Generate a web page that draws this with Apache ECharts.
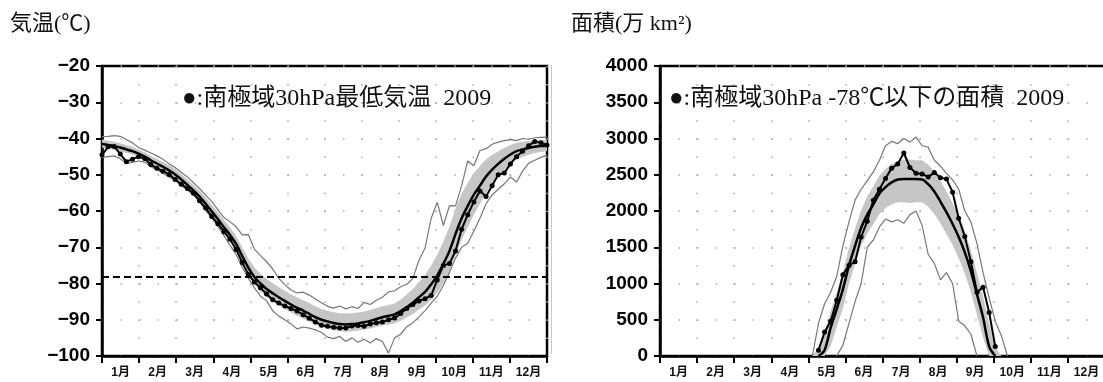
<!DOCTYPE html>
<html>
<head>
<meta charset="utf-8">
<script src="https://cdn.jsdelivr.net/npm/echarts@6.0.0/dist/echarts.min.js"></script>
<style>
  html, body { margin: 0; padding: 0; background: #fff; }
  #chart { width: 1103px; height: 382px; }
</style>
</head>
<body>
<div id="chart"></div>
<script>
// 横軸：通日（5日おき）
var days = [0, 5, 10, 15, 20, 25, 30, 35, 40, 45, 50, 55, 60, 65, 70, 75, 80, 85, 90, 95,
  100, 105, 110, 115, 120, 125, 130, 135, 140, 145, 150, 155, 160, 165, 170, 175, 180, 185, 190, 195,
  200, 205, 210, 215, 220, 225, 230, 235, 240, 245, 250, 255, 260, 265, 270, 275, 280, 285, 290, 295,
  300, 305, 310, 315, 320, 325, 330, 335, 340, 345, 350, 355, 360, 365];
var monthLabels = ['1月', '2月', '3月', '4月', '5月', '6月', '7月', '8月', '9月', '10月', '11月', '12月'];

// 左：南極域30hPa最低気温 (℃)
var tempMax = [-39.5, -39.4, -39.2, -39.4, -40.3, -41.2, -42.5, -43.2, -44.0, -44.8,
  -45.7, -47.0, -48.0, -49.3, -50.6, -52.2, -53.8, -55.6, -57.4, -59.6,
  -61.8, -63.0, -64.3, -66.6, -66.5, -70.5, -72.3, -74.0, -76.0, -78.6,
  -80.3, -81.8, -82.6, -82.4, -83.2, -84.3, -85.3, -86.3, -86.8, -86.2,
  -87.0, -86.4, -86.9, -85.2, -85.8, -84.6, -83.8, -82.3, -82.0, -80.9,
  -80.2, -78.6, -73.5, -70.2, -62.0, -57.6, -64.0, -58.5, -58.6, -53.0,
  -46.2, -47.5, -43.3, -42.8, -41.6, -41.0, -40.6, -40.3, -40.6, -40.0,
  -40.2, -39.8, -39.7, -39.6];
var tempMin = [-45.2, -45.0, -44.8, -45.6, -46.9, -46.6, -46.2, -46.5, -47.8, -48.6,
  -49.6, -50.6, -51.6, -52.9, -54.2, -55.6, -57.4, -59.8, -62.0, -64.2,
  -66.8, -69.5, -72.0, -75.5, -78.5, -81.2, -83.5, -84.8, -87.5, -89.0,
  -90.0, -91.2, -92.5, -92.0, -92.3, -92.8, -93.5, -94.8, -95.2, -94.6,
  -96.0, -95.0, -96.2, -95.4, -96.4, -95.2, -96.0, -99.2, -95.0, -94.0,
  -91.9, -90.8, -89.2, -87.5, -85.4, -83.5, -80.5, -77.0, -73.0, -70.0,
  -68.9, -65.5, -62.0, -58.0, -55.5, -54.0, -52.5, -50.6, -52.0, -49.0,
  -46.8, -46.0, -45.2, -44.6];
var tempBandHi = [-40.3, -40.6, -40.9, -41.3, -41.8, -42.3, -43.0, -43.8, -44.8, -45.6,
  -46.5, -47.4, -48.4, -49.8, -51.3, -52.8, -54.4, -56.3, -58.3, -60.3,
  -62.5, -64.5, -66.9, -70.1, -73.1, -75.6, -77.3, -78.7, -79.9, -81.0,
  -82.0, -83.0, -83.8, -84.6, -85.4, -86.3, -87.0, -87.5, -87.9, -88.2,
  -88.3, -88.2, -88.0, -87.7, -87.3, -86.8, -86.3, -85.9, -85.5, -84.4,
  -83.0, -81.5, -79.6, -77.6, -75.0, -72.1, -68.4, -64.3, -59.3, -55.2,
  -52.2, -49.5, -47.6, -45.7, -44.5, -43.5, -42.6, -41.8, -41.2, -40.9,
  -40.7, -40.6, -40.5, -40.5];
var tempBandLo = [-42.5, -42.8, -43.1, -43.5, -44.0, -44.5, -45.2, -46.0, -47.0, -48.0,
  -48.9, -50.0, -51.1, -52.5, -54.0, -55.5, -57.3, -59.4, -61.6, -63.8,
  -66.2, -68.4, -71.0, -74.4, -77.6, -80.3, -82.2, -83.7, -84.9, -86.0,
  -87.0, -88.0, -88.9, -89.7, -90.5, -91.4, -92.0, -92.5, -92.9, -93.2,
  -93.3, -93.2, -93.0, -92.7, -92.4, -92.0, -91.6, -91.3, -91.0, -90.3,
  -89.4, -88.4, -87.2, -86.1, -84.5, -82.6, -79.9, -76.7, -72.3, -68.0,
  -64.4, -61.0, -58.0, -55.0, -52.5, -50.4, -48.6, -47.0, -45.8, -45.1,
  -44.5, -44.0, -43.7, -43.5];
var tempMean = [-41.5, -41.8, -42.1, -42.5, -43.0, -43.5, -44.2, -45.0, -46.0, -46.9,
  -47.8, -48.8, -49.9, -51.3, -52.8, -54.3, -56.0, -58.0, -60.1, -62.2,
  -64.5, -66.6, -69.1, -72.4, -75.6, -78.2, -80.0, -81.5, -82.7, -83.8,
  -84.8, -85.8, -86.7, -87.5, -88.4, -89.3, -90.0, -90.5, -90.9, -91.2,
  -91.3, -91.2, -91.0, -90.7, -90.3, -89.8, -89.3, -88.9, -88.5, -87.6,
  -86.5, -85.3, -83.8, -82.3, -80.2, -77.8, -74.6, -71.0, -66.3, -62.0,
  -58.6, -55.5, -53.0, -50.5, -48.6, -47.0, -45.6, -44.4, -43.5, -43.0,
  -42.6, -42.3, -42.1, -42.0];
var temp2009 = [-44.5, -42.3, -42.2, -44.3, -46.4, -45.7, -45.0, -45.5, -47.2, -48.2,
  -49.0, -49.9, -51.3, -52.6, -53.8, -55.1, -57.2, -59.2, -61.5, -63.5,
  -65.7, -67.8, -70.6, -74.2, -77.5, -79.6, -81.2, -82.9, -84.5, -85.4,
  -86.2, -86.9, -87.6, -88.6, -89.6, -90.6, -91.5, -91.8, -92.1, -92.3,
  -92.3, -91.7, -91.6, -91.8, -91.2, -90.8, -90.6, -90.0, -89.5, -88.3,
  -86.9, -85.8, -84.8, -84.2, -83.3, -79.0, -75.0, -74.5, -71.0, -65.0,
  -61.0, -57.5, -54.5, -56.0, -53.0, -50.0, -49.5, -47.0, -45.0, -43.5,
  -42.0, -40.8, -41.2, -41.8];
var tempLimit = -78;

// 右：-78℃以下の面積 (万km2)
var _ = null;
var areaMax = [_, _, _, _, _, _, _, _, _, _, _, _, _, _, _, _, _, _, _, _, _, _, _, _, _,
  0, 450, 720, 880, 1100, 1520, 1850, 2150, 2300, 2420,
  2540, 2700, 2900, 2960, 2930, 3000, 2950, 3020, 2900, 2880,
  2700, 2620, 2520, 2430, 2300, 2000, 1850, 1550, 1150, 800,
  480, 280, 0,
  _, _, _, _, _, _, _, _, _, _, _, _, _, _, _, _];
var areaMin = [_, _, _, _, _, _, _, _, _, _, _, _, _, _, _, _, _, _, _, _, _, _, _, _, _, _, _, _, _,
  0, 150, 450, 750, 1000, 1500, 1600, 1780, 1890, 1850,
  1880, 1830, 1950, 2000, 1800, 1400, 1280, 1050, 1150, 1000,
  480, 420, 300, 0,
  _, _, _, _, _, _, _, _, _, _, _, _, _, _, _, _, _, _, _, _, _];
var areaBandHi = [0, 0, 0, 0, 0, 0, 0, 0, 0, 0, 0, 0, 0, 0, 0, 0, 0, 0, 0, 0, 0, 0, 0, 0, 0,
  0, 120, 330, 620, 880, 1160, 1490, 1760, 2010, 2200,
  2340, 2490, 2580, 2650, 2690, 2710, 2710, 2700, 2700, 2640,
  2550, 2420, 2270, 2110, 1930, 1720, 1460, 1140, 820, 440,
  120, 0,
  0, 0, 0, 0, 0, 0, 0, 0, 0, 0, 0, 0, 0, 0, 0, 0, 0];
var areaBandLo = [0, 0, 0, 0, 0, 0, 0, 0, 0, 0, 0, 0, 0, 0, 0, 0, 0, 0, 0, 0, 0, 0, 0, 0, 0, 0, 0, 0,
  140, 400, 660, 1000, 1270, 1520, 1690, 1820, 1960, 2040,
  2090, 2120, 2120, 2110, 2120, 2120, 2060, 1960, 1830, 1680,
  1530, 1350, 1140, 880, 570, 260, 0,
  0, 0, 0, 0, 0, 0, 0, 0, 0, 0, 0, 0, 0, 0, 0, 0, 0, 0, 0];
var areaMean = [_, _, _, _, _, _, _, _, _, _, _, _, _, _, _, _, _, _, _, _, _, _, _, _, _, _,
  0, 80, 390, 650, 920, 1250, 1520, 1770, 1950, 2090,
  2240, 2330, 2395, 2435, 2440, 2440, 2440, 2435, 2370, 2270,
  2130, 1980, 1820, 1640, 1430, 1170, 850, 530, 130, 0,
  _, _, _, _, _, _, _, _, _, _, _, _, _, _, _, _, _, _];
var area2009 = [_, _, _, _, _, _, _, _, _, _, _, _, _, _, _, _, _, _, _, _, _, _, _, _, _, _,
  80, 330, 480, 770, 1120, 1250, 1300, 1640, 1860, 2150,
  2300, 2450, 2590, 2650, 2800, 2600, 2520, 2510, 2470, 2530,
  2460, 2440, 2260, 1900, 1650, 1300, 880, 950, 600, 130,
  _, _, _, _, _, _, _, _, _, _, _, _, _, _, _, _, _, _];

(function () {
  var SERIF = '"Liberation Serif", "Noto Sans CJK JP", serif';
  var SANS = '"Liberation Sans", Arial, sans-serif';
  var NARROW = '"Liberation Sans Narrow", "Liberation Sans", "Noto Sans CJK JP", sans-serif';

  function diff(hi, lo) {
    return hi.map(function (v, i) { return Math.round((v - lo[i]) * 100) / 100; });
  }
  function minus(v) {
    return String(v).replace('-', '\u2212');
  }

  // 月目盛（カテゴリ軸）
  function monthAxis(g) {
    return {
      gridIndex: g,
      type: 'category',
      data: monthLabels,
      boundaryGap: true,
      axisLine: { show: true, onZero: false, lineStyle: { color: '#000', width: 2.5 } },
      axisTick: { show: true, length: 7, interval: 0, lineStyle: { color: '#000', width: 2 } },
      axisLabel: { color: '#111', fontSize: 12, fontWeight: 'bold', margin: 11, interval: 0, fontFamily: NARROW },
      splitLine: { show: true, interval: 0, lineStyle: { color: '#aaa', width: 1.5, type: [1.5, 16.6] } }
    };
  }
  // データ用の通日軸（非表示）
  function dayAxis(g) {
    return { gridIndex: g, type: 'category', data: days, boundaryGap: false, show: false };
  }
  function valueAxis(g, min, max, step) {
    return {
      gridIndex: g,
      type: 'value',
      min: min,
      max: max,
      interval: step,
      axisLine: { show: true, onZero: false, lineStyle: { color: '#000', width: 2.5 } },
      axisTick: { show: true, length: 6, lineStyle: { color: '#000', width: 2 } },
      axisLabel: { color: '#000', fontSize: 19, fontWeight: 'bold', margin: 12, fontFamily: SANS, formatter: minus },
      splitLine: { show: true, lineStyle: { color: '#aaa', width: 1.5, type: [1.5, 17.04] } }
    };
  }

  // 平均±σの帯、最大・最小、平均、2009年
  function seriesFor(g, lo, hi, mx, mn, mean, y2009, markLine) {
    var base = { type: 'line', xAxisIndex: g * 2 + 1, yAxisIndex: g, symbol: 'none', silent: true, connectNulls: false };
    var list = [
      Object.assign({}, base, { data: lo, stack: 'band' + g, stackStrategy: 'all', lineStyle: { opacity: 0 }, z: 1 }),
      Object.assign({}, base, { data: diff(hi, lo), stack: 'band' + g, stackStrategy: 'all', lineStyle: { opacity: 0 },
        areaStyle: { color: '#c6c6c6', opacity: 1 }, z: 1 }),
      Object.assign({}, base, { data: mx, lineStyle: { color: '#777', width: 1.2 }, z: 2 }),
      Object.assign({}, base, { data: mn, lineStyle: { color: '#777', width: 1.2 }, z: 2 }),
      Object.assign({}, base, { data: mean, smooth: 0.3, lineStyle: { color: '#000', width: 2.5 }, z: 3 }),
      Object.assign({}, base, { data: y2009, symbol: 'circle', symbolSize: 5, showSymbol: true, showAllSymbol: true,
        itemStyle: { color: '#000' }, lineStyle: { color: '#000', width: 2 }, z: 4 })
    ];
    if (markLine) list[4].markLine = markLine;
    return list;
  }

  var option = {
    animation: false,
    backgroundColor: '#fff',
    grid: [
      { left: 102, top: 66, width: 445, height: 290, show: true, borderColor: '#000', borderWidth: 2.5, outerBoundsMode: 'none' },
      { left: 660, top: 66, width: 445, height: 290, show: true, borderColor: '#000', borderWidth: 2.5, outerBoundsMode: 'none' }
    ],
    xAxis: [monthAxis(0), dayAxis(0), monthAxis(1), dayAxis(1)],
    yAxis: [valueAxis(0, -100, -20, 10), valueAxis(1, 0, 4000, 500)],
    series: [].concat(
      seriesFor(0, tempBandLo, tempBandHi, tempMax, tempMin, tempMean, temp2009, {
        silent: true,
        symbol: ['none', 'none'],
        label: { show: false },
        lineStyle: { color: '#000', width: 2, type: [7, 4] },
        data: [{ yAxis: tempLimit }]
      }),
      seriesFor(1, areaBandLo, areaBandHi, areaMax, areaMin, areaMean, area2009, null)
    ),
    graphic: [
      { type: 'text', style: { x: 10, y: 24, text: '気温(℃)', fontSize: 22, fontFamily: SERIF, fill: '#111', verticalAlign: 'middle' } },
      { type: 'text', style: { x: 571, y: 24, text: '面積(万 km²)', fontSize: 22, fontFamily: SERIF, fill: '#111', verticalAlign: 'middle' } },
      { type: 'text', z: 10, style: { x: 182, y: 99, text: '●:南極域30hPa最低気温  2009', fontSize: 24, fontFamily: SERIF, fill: '#111', verticalAlign: 'middle' } },
      { type: 'text', z: 10, style: { x: 669, y: 99, text: '●:南極域30hPa -78℃以下の面積  2009', fontSize: 24, fontFamily: SERIF, fill: '#111', verticalAlign: 'middle' } },
      { type: 'line', shape: { x1: 551.5, y1: 65, x2: 551.5, y2: 354 }, style: { stroke: '#c8c8c8', lineWidth: 1 } }
    ]
  };

  var myChart = echarts.init(document.getElementById('chart'), null, { renderer: 'canvas' });
  myChart.setOption(option);
})();
</script>
</body>
</html>
